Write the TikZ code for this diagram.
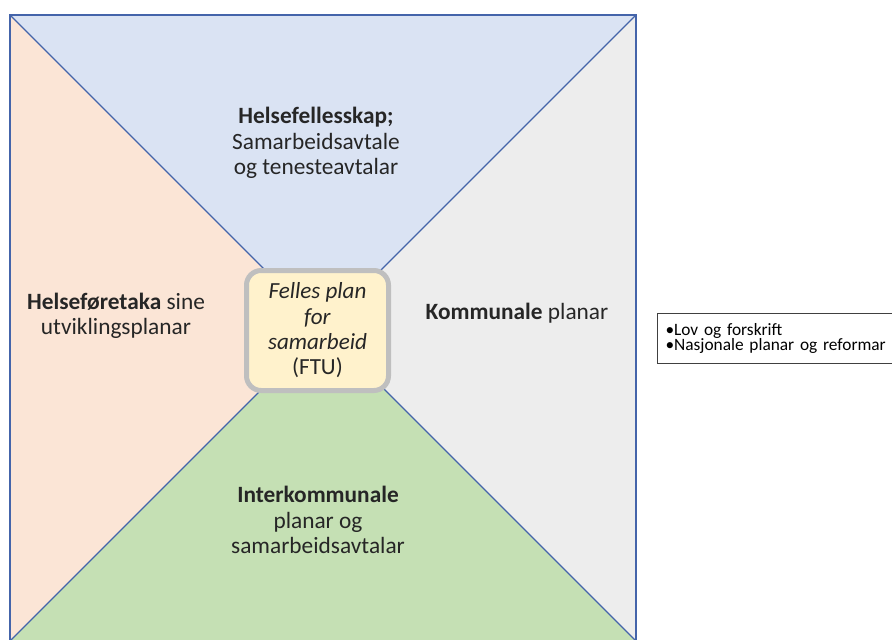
\documentclass[tikz,border=0pt]{standalone}
\usepackage{fontspec}
\setmainfont{Carlito}
\usepackage{xcolor}
\usepackage{tikz}
\usetikzlibrary{positioning}

\definecolor{lineblue}{RGB}{68,100,170}
\definecolor{topblue}{RGB}{218,227,243}
\definecolor{leftpeach}{RGB}{251,229,214}
\definecolor{rightgrey}{RGB}{237,237,237}
\definecolor{bottomgreen}{RGB}{197,224,180}
\definecolor{ftufill}{RGB}{255,242,204}
\definecolor{ftuborder}{RGB}{191,191,191}
\definecolor{txt}{RGB}{38,38,38}

\begin{document}
\begin{tikzpicture}[
    x=0.75pt, y=-0.75pt,
    edge/.style={draw=lineblue, line width=0.9pt},
    label/.style={align=center, text=txt, font=\fontsize{17.5}{19}\selectfont, inner sep=0pt},
    centre/.style={rectangle, rounded corners=11pt, draw=ftuborder, line width=3.75pt, fill=ftufill,
        minimum width=106.5pt, minimum height=90pt, align=center, text=txt,
        font=\fontsize{17.3}{19}\selectfont},
    extbox/.style={rectangle, draw=black!75, line width=0.75pt, fill=white, align=left,
        text width=190pt, inner xsep=6pt, inner ysep=7.5pt, text=black,
        font=\fontsize{13}{11.5}\selectfont},
]
    \useasboundingbox (0,0) rectangle (892,639);

    % Corners of the square and the meeting point
    \coordinate (tl) at (10,15);
    \coordinate (tr) at (636,15);
    \coordinate (br) at (636,641);
    \coordinate (bl) at (10,641);
    \coordinate (mid) at (323,328);

    % Four quadrants
    \fill[topblue] (tl) -- (tr) -- (mid) -- cycle;
    \fill[rightgrey] (tr) -- (br) -- (mid) -- cycle;
    \fill[bottomgreen] (br) -- (bl) -- (mid) -- cycle;
    \fill[leftpeach] (bl) -- (tl) -- (mid) -- cycle;

    % Outline and diagonals
    \draw[edge] (tl) rectangle (br);
    \draw[edge] (tl) -- (mid) -- (br);
    \draw[edge] (tr) -- (mid) -- (bl);

    % Quadrant texts
    \node[label] (shared) at (316,143) {\textbf{Helsefellesskap;}\\Samarbeidsavtale\\og tenesteavtalar};
    \node[label] (hf) at (116,316) {\textbf{Helseføretaka} sine\\utviklingsplanar};
    \node[label] (kom) at (517,313) {\textbf{Kommunale} planar};
    \node[label] (inter) at (318,520) {\textbf{Interkommunale}\\planar og\\samarbeidsavtalar};

    % Centre box
    \node[centre] (ftu) at (317.5,330.5) {\textit{Felles plan}\\\textit{for}\\\textit{samarbeid}\\(FTU)};

    % Box on the right
    \node[extbox, anchor=north west] (ext) at (657,313) {•Lov og forskrift\\•Nasjonale planar og reformar};
\end{tikzpicture}
\end{document}
